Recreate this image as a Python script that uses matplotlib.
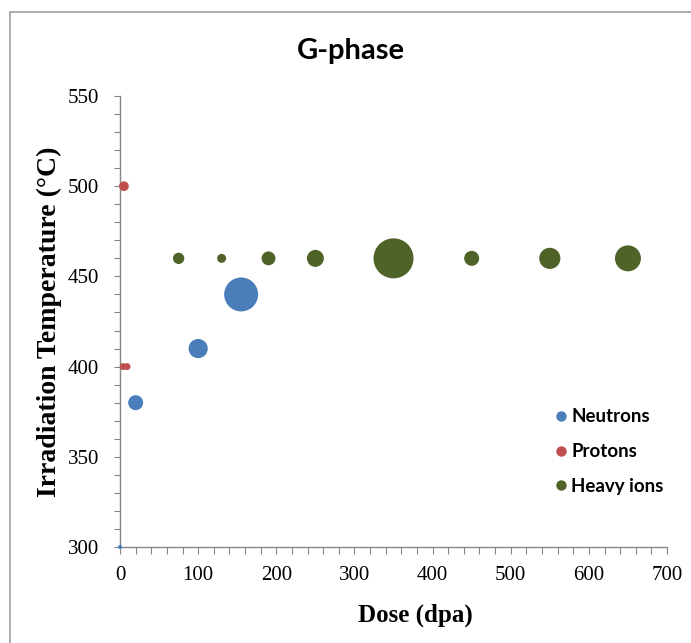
import matplotlib.pyplot as plt
from matplotlib.lines import Line2D
from matplotlib.patches import Rectangle
from matplotlib.ticker import MultipleLocator

# dose (dpa), irradiation temperature (C), relative bubble weight
neutron_dose = [0, 20, 100, 155]
neutron_temp = [300, 380, 410, 440]
neutron_weight = [1, 14, 23, 72]

proton_dose = [5, 4, 9]
proton_temp = [500, 400, 400]
proton_weight = [6, 3, 3]

ion_dose = [75, 130, 190, 250, 350, 450, 550, 650]
ion_temp = [460, 460, 460, 460, 460, 460, 460, 460]
ion_weight = [8, 5, 12, 18, 100, 14, 28, 42]

series_names = ['Neutrons', 'Protons', 'Heavy ions']
series_colors = ['#4a7ebb', '#c0504d', '#4f6228']

BUBBLE_MAX = 830  # marker area (pt^2) for weight 100

fig = plt.figure(figsize=(6.91, 6.43), dpi=100)
ax = fig.add_axes([0.1737, 0.1493, 0.7916, 0.7014])

series = [(neutron_dose, neutron_temp, neutron_weight),
          (proton_dose, proton_temp, proton_weight),
          (ion_dose, ion_temp, ion_weight)]
for (x, y, w), c in zip(series, series_colors):
    ax.scatter(x, y, s=[BUBBLE_MAX * v / 100 for v in w], color=c,
               edgecolors='none', zorder=3, clip_on=False)

ax.set_xlim(0, 700)
ax.set_ylim(300, 550)
ax.xaxis.set_major_locator(MultipleLocator(100))
ax.xaxis.set_minor_locator(MultipleLocator(20))
ax.yaxis.set_major_locator(MultipleLocator(50))
ax.yaxis.set_minor_locator(MultipleLocator(10))

for side in ['top', 'right']:
    ax.spines[side].set_visible(False)
for side in ['left', 'bottom']:
    ax.spines[side].set_color('#868686')
    ax.spines[side].set_linewidth(1.0)

ax.tick_params(which='both', direction='out', color='#868686', width=0.8)
ax.tick_params(axis='y', which='both', length=4)
ax.tick_params(axis='x', which='both', length=5)
ax.tick_params(axis='both', which='major', labelsize=15)
ax.tick_params(axis='y', which='major', pad=11)
ax.tick_params(axis='x', which='major', pad=9)
for lbl in ax.get_xticklabels() + ax.get_yticklabels():
    lbl.set_fontfamily('Liberation Serif')

ax.set_xlabel('Dose (dpa)', fontsize=18, fontweight='bold',
              family='Liberation Serif')
ax.xaxis.set_label_coords(0.54, -0.125)
ax.set_ylabel('Irradiation Temperature (\u00b0C)', fontsize=20,
              fontweight='bold', family='Liberation Serif')
ax.yaxis.set_label_coords(-0.106, 0.5)

fig.text(0.508, 0.908, 'G-phase', fontsize=21, fontweight='bold',
         family='Lato', ha='center', va='baseline')

handles = [Line2D([], [], linestyle='none', marker='o', markersize=7.5,
                  markerfacecolor=c, markeredgecolor='none')
           for c in series_colors]
leg = ax.legend(handles, series_names, loc='upper left',
                bbox_to_anchor=(0.758, 0.345), frameon=False,
                prop={'family': 'Lato', 'weight': 'bold', 'size': 13.5},
                handletextpad=0.05, handlelength=1.0, labelspacing=0.95)

# chart area border
fig.add_artist(Rectangle((10 / 691, -0.1), 1.2, 1.1 - 12 / 643,
                         transform=fig.transFigure, fill=False,
                         edgecolor='#a0a0a0', linewidth=1.2))

fig.savefig('out.png', dpi=100, facecolor='white')
